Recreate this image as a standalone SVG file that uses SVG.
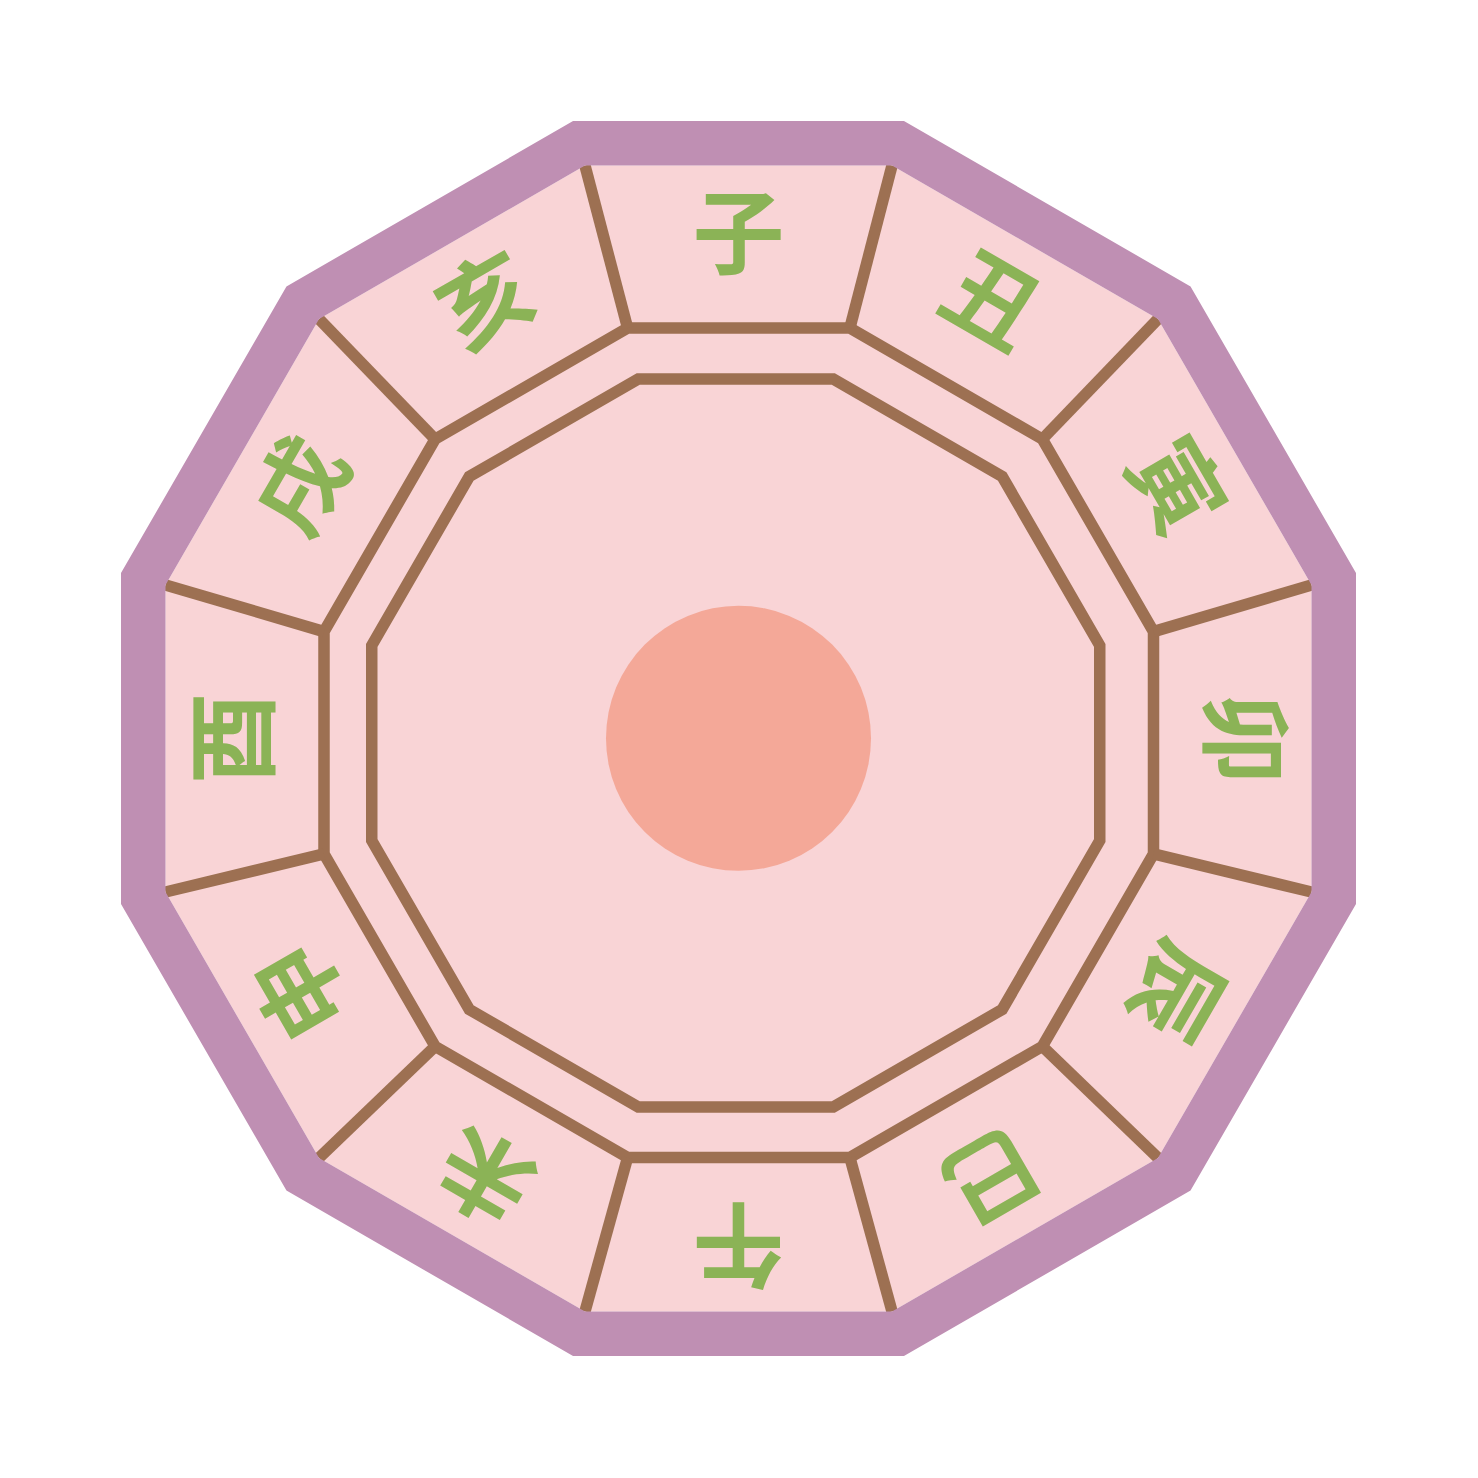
<svg xmlns="http://www.w3.org/2000/svg" width="1478" height="1478" viewBox="0 0 1478 1478">
  <style>
    .line { stroke: #9D7052; stroke-width: 11.5; fill: none; }
    .ring { stroke: #9D7052; stroke-width: 11.5; fill: #F9D4D6; stroke-linejoin: miter; }
    .lbl { font-family: "Noto Sans CJK SC", "Noto Sans CJK JP", sans-serif; font-size: 92px; font-weight: 700; fill: #8BB356; text-anchor: middle; dominant-baseline: central; }
  </style>
  <rect width="1478" height="1478" fill="#FFFFFF"/>
  <g id="face">
    <polygon points="584.97,165.5 892.03,165.5 1157.96,319.04 1311.5,584.97 1311.5,892.03 1157.96,1157.96 892.03,1311.5 584.97,1311.5 319.04,1157.96 165.5,892.03 165.5,584.97 319.04,319.04" fill="#F9D4D6"/>
  </g>
  <g id="inner-ring">
    <polygon class="ring" points="627.62,328 849.88,328 1042.37,439.13 1153.5,631.62 1153.5,853.88 1042.37,1046.37 849.88,1157.5 627.62,1157.5 435.13,1046.37 324,853.88 324,631.62 435.13,439.13"/>
  </g>
  <g id="inner-core">
    <polygon class="ring" points="638.22,379 833.28,379 1002.22,476.53 1099.75,645.47 1099.75,840.53 1002.22,1009.47 833.28,1107 638.22,1107 469.28,1009.47 371.75,840.53 371.75,645.47 469.28,476.53"/>
  </g>
  <g id="center-disc">
    <circle cx="738.5" cy="738.3" r="132.5" fill="#F4A898"/>
  </g>
  <g id="connectors">
    <line class="line" x1="584.97" y1="165.5" x2="627.62" y2="328"/>
    <line class="line" x1="892.03" y1="165.5" x2="849.88" y2="328"/>
    <line class="line" x1="1157.96" y1="319.04" x2="1042.37" y2="439.13"/>
    <line class="line" x1="1311.5" y1="584.97" x2="1153.5" y2="631.62"/>
    <line class="line" x1="1311.5" y1="892.03" x2="1153.5" y2="853.88"/>
    <line class="line" x1="1157.96" y1="1157.96" x2="1042.37" y2="1046.37"/>
    <line class="line" x1="892.03" y1="1311.5" x2="849.88" y2="1157.5"/>
    <line class="line" x1="584.97" y1="1311.5" x2="627.62" y2="1157.5"/>
    <line class="line" x1="319.04" y1="1157.96" x2="435.13" y2="1046.37"/>
    <line class="line" x1="165.5" y1="892.03" x2="324" y2="853.88"/>
    <line class="line" x1="165.5" y1="584.97" x2="324" y2="631.62"/>
    <line class="line" x1="319.04" y1="319.04" x2="435.13" y2="439.13"/>
  </g>
  <g id="border">
    <path fill="#BF8FB3" fill-rule="evenodd" d="M573.04,121 L903.96,121 L1190.54,286.46 L1356,573.04 L1356,903.96 L1190.54,1190.54 L903.96,1356 L573.04,1356 L286.46,1190.54 L121,903.96 L121,573.04 L286.46,286.46 Z M584.97,165.5 L892.03,165.5 L1157.96,319.04 L1311.5,584.97 L1311.5,892.03 L1157.96,1157.96 L892.03,1311.5 L584.97,1311.5 L319.04,1157.96 L165.5,892.03 L165.5,584.97 L319.04,319.04 Z"/>
  </g>
  <g id="label-zi"><text class="lbl" x="738.5" y="226" transform="rotate(0 738.5 738.5)">子</text></g>
  <g id="label-chou"><text class="lbl" x="738.5" y="226" transform="rotate(30 738.5 738.5)">丑</text></g>
  <g id="label-yin"><text class="lbl" x="738.5" y="226" transform="rotate(60 738.5 738.5)">寅</text></g>
  <g id="label-mao"><text class="lbl" x="738.5" y="226" transform="rotate(90 738.5 738.5)">卯</text></g>
  <g id="label-chen"><text class="lbl" x="738.5" y="226" transform="rotate(120 738.5 738.5)">辰</text></g>
  <g id="label-si"><text class="lbl" x="738.5" y="226" transform="rotate(150 738.5 738.5)">巳</text></g>
  <g id="label-wu"><text class="lbl" x="738.5" y="226" transform="rotate(180 738.5 738.5)">午</text></g>
  <g id="label-wei"><text class="lbl" x="738.5" y="226" transform="rotate(210 738.5 738.5)">未</text></g>
  <g id="label-shen"><text class="lbl" x="738.5" y="226" transform="rotate(240 738.5 738.5)">申</text></g>
  <g id="label-you"><text class="lbl" x="738.5" y="226" transform="rotate(270 738.5 738.5)">酉</text></g>
  <g id="label-xu"><text class="lbl" x="738.5" y="226" transform="rotate(300 738.5 738.5)">戌</text></g>
  <g id="label-hai"><text class="lbl" x="738.5" y="226" transform="rotate(330 738.5 738.5)">亥</text></g>
</svg>
